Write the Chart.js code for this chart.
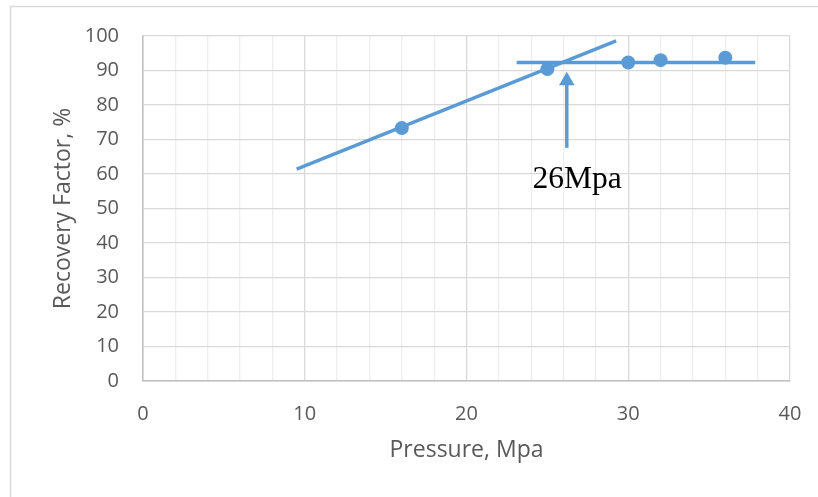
<!DOCTYPE html>
<html>
<head>
<meta charset="utf-8">
<script src="https://cdn.jsdelivr.net/npm/chart.js@4.4.0/dist/chart.umd.min.js"></script>
<style>
  html, body { margin: 0; padding: 0; background: #fff; }
  #wrap { width: 818px; height: 497px; }
</style>
</head>
<body>
<div id="wrap"><canvas id="c" width="818" height="497"></canvas></div>
<script>
// Measured points
const pressure = [16, 25, 30, 32, 36];
const recovery = [73.3, 90.4, 92.3, 93.0, 93.7];
// Trend line 1 (rising)
const trend1X = [9.5, 29.25];
const trend1Y = [61.4, 98.6];
// Trend line 2 (plateau)
const trend2X = [23.1, 37.85];
const trend2Y = [92.3, 92.3];
// Arrow marking intersection
const arrowX = [26.2, 26.2];
const arrowY = [67.6, 87.0];
// Annotation
const annotText = '26Mpa';
const annotX = 26.84;
const annotY = 56;
// Ticks
const xTickLabels = [0, 10, 20, 30, 40];
const yTickLabels = [0, 10, 20, 30, 40, 50, 60, 70, 80, 90, 100];

const blue = '#5b9bd5';
const textGray = '#595959';

function pts(xs, ys) { return xs.map((x, i) => ({ x: x, y: ys[i] })); }

const framePlugin = {
  id: 'frame',
  beforeDraw(chart) {
    const ctx = chart.ctx;
    ctx.save();
    ctx.fillStyle = '#ffffff';
    ctx.fillRect(0, 0, chart.width, chart.height);
    ctx.strokeStyle = '#d9d9d9';
    ctx.lineWidth = 1.5;
    ctx.strokeRect(10.5, 6.5, chart.width, chart.height);
    ctx.restore();
  }
};

const annotPlugin = {
  id: 'annot',
  afterDatasetsDraw(chart) {
    const ctx = chart.ctx;
    const xs = chart.scales.x, ys = chart.scales.y;
    ctx.save();
    ctx.fillStyle = '#000000';
    ctx.font = '31.5px "Liberation Serif", "Times New Roman", serif';
    ctx.textAlign = 'center';
    ctx.textBaseline = 'alphabetic';
    ctx.fillText(annotText, xs.getPixelForValue(annotX), ys.getPixelForValue(annotY));
    ctx.restore();
  }
};

new Chart(document.getElementById('c'), {
  type: 'scatter',
  data: {
    datasets: [
      {
        data: pts(trend1X, trend1Y),
        showLine: true, borderColor: blue, borderWidth: 3.5,
        pointRadius: 0, borderCapStyle: 'butt'
      },
      {
        data: pts(trend2X, trend2Y),
        showLine: true, borderColor: blue, borderWidth: 3.5,
        pointRadius: 0, borderCapStyle: 'butt'
      },
      {
        data: pts(arrowX, arrowY),
        showLine: true, borderColor: blue, borderWidth: 3.5,
        pointRadius: [0, 9], pointStyle: 'triangle',
        pointBackgroundColor: blue, pointBorderColor: blue, pointBorderWidth: 0
      },
      {
        data: pts(pressure, recovery),
        showLine: false, pointRadius: 7,
        pointBackgroundColor: blue, pointBorderColor: blue, pointBorderWidth: 0
      }
    ]
  },
  options: {
    responsive: false,
    animation: false,
    events: [],
    layout: { padding: { top: 36, right: 28, left: 0, bottom: 0 } },
    plugins: { legend: { display: false }, tooltip: { enabled: false } },
    scales: {
      x: {
        type: 'linear', min: 0, max: 40,
        afterFit(s) { s.height = 116; s.paddingLeft = 0; s.paddingRight = 0; },
        afterBuildTicks(s) {
          const t = [];
          for (let v = 0; v <= 40; v += 2) t.push({ value: v });
          s.ticks = t;
        },
        ticks: {
          autoSkip: false, maxRotation: 0, padding: 21,
          color: textGray,
          font: { family: '"Open Sans", sans-serif', size: 20 },
          callback: (v) => xTickLabels.includes(v) ? String(v) : ''
        },
        grid: {
          drawTicks: false,
          color: (c) => (c.tick && xTickLabels.includes(c.tick.value)) ? '#d9d9d9' : '#eeeeee',
          lineWidth: 1.3
        },
        border: { color: '#bfbfbf', width: 1.5 },
        title: {
          display: true, text: 'Pressure, Mpa', color: textGray,
          font: { family: '"Open Sans", sans-serif', size: 23 },
          padding: { top: 0, bottom: 33 }
        }
      },
      y: {
        type: 'linear', min: 0, max: 100,
        afterFit(s) { s.width = 143; },
        afterBuildTicks(s) { s.ticks = yTickLabels.map(v => ({ value: v })); },
        ticks: {
          padding: 24, color: textGray,
          font: { family: '"Open Sans", sans-serif', size: 20 }
        },
        grid: { drawTicks: false, color: '#d9d9d9', lineWidth: 1.3 },
        border: { color: '#bfbfbf', width: 1.5 },
        title: {
          display: true, text: 'Recovery Factor, %', color: textGray,
          font: { family: '"Open Sans", sans-serif', size: 23 },
          padding: { top: 50, bottom: 0 }
        }
      }
    }
  },
  plugins: [framePlugin, annotPlugin]
});
</script>
</body>
</html>
